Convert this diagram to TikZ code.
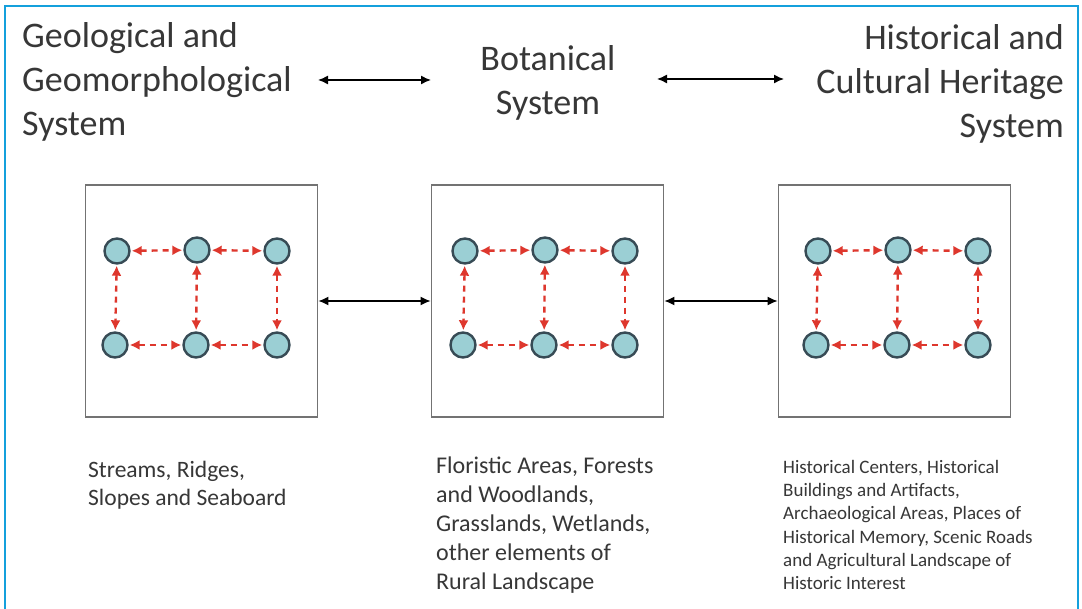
\documentclass[tikz,border=0pt]{standalone}
\usepackage{fontspec}
\setmainfont{Carlito}
\usetikzlibrary{arrows.meta}
\definecolor{frame}{RGB}{20,160,220}
\definecolor{txt}{RGB}{55,55,55}
\definecolor{boxline}{RGB}{115,115,115}
\definecolor{dotfill}{RGB}{155,207,212}
\definecolor{dotline}{RGB}{55,75,85}
\definecolor{redarr}{RGB}{222,55,45}
\tikzset{
  title/.style={inner sep=0pt, text=txt, font=\fontsize{36}{44}\selectfont},
  caption/.style={inner sep=0pt, text=txt, align=left},
  panel/.style={draw=boxline, line width=1.8pt, minimum width=232pt, minimum height=232pt, inner sep=0pt},
  dot/.style={circle, draw=dotline, fill=dotfill, line width=2.4pt, minimum size=25pt, inner sep=0pt},
  redlink/.style={draw=redarr, line width=2.4pt, dash pattern=on 6pt off 5pt, {Latex[length=10pt,width=10pt]}-{Latex[length=10pt,width=10pt]}, shorten <=1pt, shorten >=1pt},
  blacklink/.style={draw=black, line width=1.4pt, {Latex[length=10pt,width=9pt]}-{Latex[length=10pt,width=9pt]}}
}
\begin{document}
\begin{tikzpicture}[x=1pt,y=-1pt]
\useasboundingbox (0,0) rectangle (1082,609);
\fill[white] (0,0) rectangle (1082,609);
\draw[frame, line width=1.6pt] (5,609) -- (5,6) -- (1078,6) -- (1078,609);

% titles
\node[title, anchor=north west, align=left] (geo) at (22,22) {Geological and\\Geomorphological\\System};
\node[title, anchor=north, align=center] (bot) at (548,45) {Botanical\\System};
\node[title, anchor=north east, align=right] (his) at (1064,24) {Historical and\\Cultural Heritage\\System};

\coordinate (ta1) at (318,80);
\coordinate (ta2) at (431,80);
\coordinate (tb1) at (657,79);
\coordinate (tb2) at (784,79);
\draw[blacklink] (ta1) -- (ta2);
\draw[blacklink] (tb1) -- (tb2);

% panels
\node[panel] (b1) at (201.5,301) {};
\node[panel] (b2) at (547.5,301) {};
\node[panel] (b3) at (894.5,301) {};
\draw[blacklink] (b1) -- (b2);
\draw[blacklink] (b2) -- (b3);

% dots
\foreach \i/\ox in {1/0,2/348,3/701}{
  \node[dot] (d\i a) at (117+\ox,251) {};
  \node[dot] (d\i b) at (197+\ox,250) {};
  \node[dot] (d\i c) at (277+\ox,251) {};
  \node[dot] (d\i d) at (115+\ox,345) {};
  \node[dot] (d\i e) at (196+\ox,345) {};
  \node[dot] (d\i f) at (277+\ox,345) {};
  \draw[redlink] (d\i a) -- (d\i b);
  \draw[redlink] (d\i b) -- (d\i c);
  \draw[redlink] (d\i d) -- (d\i e);
  \draw[redlink] (d\i e) -- (d\i f);
  \draw[redlink] (d\i a) -- (d\i d);
  \draw[redlink] (d\i b) -- (d\i e);
  \draw[redlink] (d\i c) -- (d\i f);
}

% captions
\node[caption, anchor=north west, font=\fontsize{23.5}{28}\selectfont] (c1) at (88,461) {Streams, Ridges,\\Slopes and Seaboard};
\node[caption, anchor=north west, font=\fontsize{24}{29}\selectfont] (c2) at (436,457) {Floristic Areas, Forests\\and Woodlands,\\Grasslands, Wetlands,\\other elements of\\Rural Landscape};
\node[caption, anchor=north west, font=\fontsize{19}{23.3}\selectfont] (c3) at (783,460) {Historical Centers, Historical\\Buildings and Artifacts,\\Archaeological Areas, Places of\\Historical Memory, Scenic Roads\\and Agricultural Landscape of\\Historic Interest};
\end{tikzpicture}
\end{document}
